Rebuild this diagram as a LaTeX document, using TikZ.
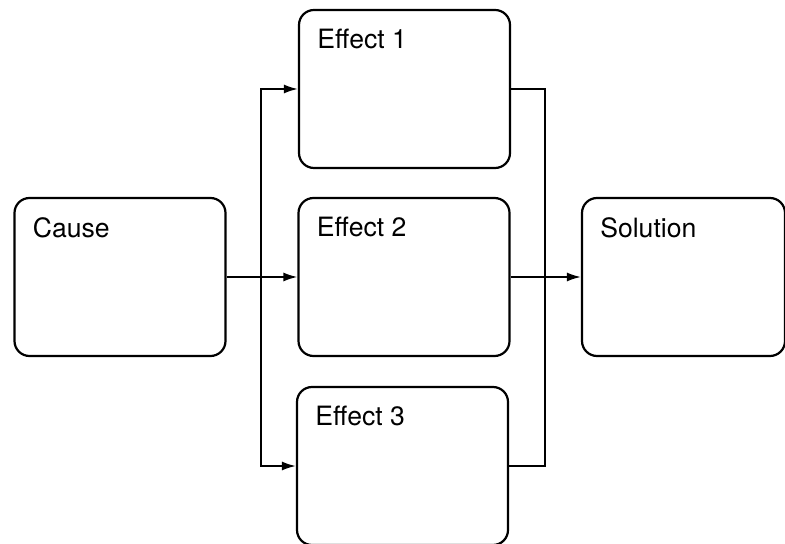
\documentclass[tikz,border=0pt]{standalone}
\usepackage{fontspec}
\setmainfont{TeX Gyre Heros}
\usetikzlibrary{arrows.meta}

\begin{document}
\begin{tikzpicture}[x=0.5pt, y=-0.5pt,
        box/.style={draw, line width=1.1pt, rounded corners=7.5pt, minimum width=105.5pt, minimum height=79pt, inner sep=0pt},
        title/.style={anchor=north west, inner sep=0pt, xshift=9.5pt, yshift=-10pt, font=\fontsize{13.3}{15}\selectfont},
        link/.style={line width=0.9pt},
        >={Latex[length=7pt, width=4.5pt]}]
            \useasboundingbox (0,0) rectangle (785,544);
            \node[box, label={[title]north west:Cause}] (cause) at (120,277) {};
            \node[box, label={[title]north west:Effect 1}] (eff1) at (404.5,89) {};
            \node[box, label={[title]north west:Effect 2}] (eff2) at (404,277) {};
            \node[box, label={[title]north west:Effect 3}] (eff3) at (402.5,466) {};
            \node[box, minimum width=101.5pt, label={[title]north west:Solution}] (sol) at (683.5,277) {};

            % split to the effects
            \coordinate (split) at (261,277);
            \draw[link] (cause.east) -- (split);
            \draw[link, ->] (split) |- (eff1.west);
            \draw[link, ->] (split) -- (eff2.west);
            \draw[link, ->] (split) |- (eff3.west);

            % join to the solution
            \coordinate (join) at (545,277);
            \draw[link] (eff1.east) -| (join) |- (eff3.east);
            \draw[link, ->] (eff2.east) -- (sol.west);
        \end{tikzpicture}
\end{document}
